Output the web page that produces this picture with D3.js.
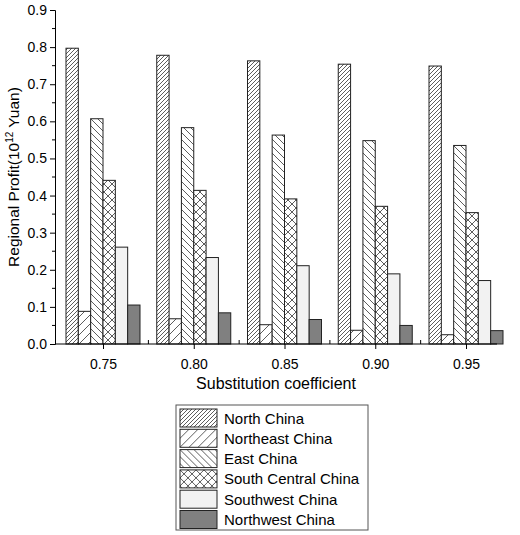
<!DOCTYPE html><html><head><script src="https://d3js.org/d3.v7.min.js"></script>
<style>body{margin:0;background:#fff}text{font-family:Arial,"Liberation Sans",sans-serif}</style></head><body>
<svg id="c" width="520" height="535"></svg>
<script>
const categories=["0.75","0.80","0.85","0.90","0.95"];
const seriesNames=["North China","Northeast China","East China","South Central China","Southwest China","Northwest China"];
const northChina=[0.797,0.778,0.763,0.754,0.749];
const northeastChina=[0.088,0.068,0.052,0.037,0.025];
const eastChina=[0.607,0.583,0.563,0.548,0.535];
const southCentralChina=[0.441,0.414,0.391,0.371,0.354];
const southwestChina=[0.261,0.233,0.211,0.189,0.171];
const northwestChina=[0.105,0.084,0.066,0.050,0.036];
const yTicks=[0,0.1,0.2,0.3,0.4,0.5,0.6,0.7,0.8,0.9];
const series=[northChina,northeastChina,eastChina,southCentralChina,southwestChina,northwestChina];

const svg=d3.select("#c");
const defs=svg.append("defs");
function pat(id,size,draw,bg){const p=defs.append("pattern").attr("id",id).attr("patternUnits","userSpaceOnUse").attr("width",size).attr("height",size);
p.append("rect").attr("width",size).attr("height",size).attr("fill",bg||"#fff");draw(p,size);}
pat("p0",4,(p,s)=>p.append("path").attr("d",`M0,${s}L${s},0M-1,1L1,-1M${s-1},${s+1}L${s+1},${s-1}`).attr("stroke","#333").attr("stroke-width",0.8));
pat("p1",9,(p,s)=>p.append("path").attr("d",`M0,${s}L${s},0M-1,1L1,-1M${s-1},${s+1}L${s+1},${s-1}`).attr("stroke","#333").attr("stroke-width",0.8));
pat("p2",7,(p,s)=>p.append("path").attr("d",`M0,0L${s},${s}M-1,${s-1}L1,${s+1}M${s-1},-1L${s+1},1`).attr("stroke","#333").attr("stroke-width",0.8));
pat("p3",8,(p,s)=>p.append("path").attr("d",`M0,0L${s},${s}M0,${s}L${s},0`).attr("stroke","#333").attr("stroke-width",0.8));
const fills=["url(#p0)","url(#p1)","url(#p2)","url(#p3)","#f2f2f2","#808080"];

const y=d3.scaleLinear().domain([0,0.9]).range([344,10]);
const x=d3.scalePoint().domain(categories).range([103,466]);
const bw=74;
const xi=d3.scaleBand().domain(d3.range(6)).range([-bw/2,bw/2]);

const g=svg.append("g");
series.forEach((s,i)=>{
 g.selectAll(null).data(s).enter().append("rect")
  .attr("x",(d,j)=>x(categories[j])+xi(i)).attr("width",xi.bandwidth())
  .attr("y",d=>y(d)).attr("height",d=>y(0)-y(d))
  .attr("fill",fills[i]).attr("stroke","#222").attr("stroke-width",1);
});
const ya=svg.append("g").attr("transform","translate(55,0)").call(d3.axisLeft(y).tickValues(yTicks).tickFormat(d3.format(".1f")).tickSize(5));
ya.selectAll("text").attr("font-size",14).attr("fill","#000");
ya.selectAll(".mn").data(d3.range(0.05,0.9,0.1)).enter().append("line").attr("x1",-3).attr("x2",0).attr("y1",d=>y(d)).attr("y2",d=>y(d)).attr("stroke","#000");
const xa=svg.append("g").attr("transform","translate(0,344)").call(d3.axisBottom(x).tickSize(5));
xa.select(".domain").attr("d","M55,0H497");
xa.selectAll("text").attr("font-size",14).attr("fill","#000").attr("dy","1.2em");
xa.selectAll(".mn").data(categories.slice(0,4)).enter().append("line").attr("x1",d=>x(d)+45.4).attr("x2",d=>x(d)+45.4).attr("y1",0).attr("y2",-4).attr("stroke","#000");
svg.selectAll(".domain").attr("stroke","#000");

svg.append("text").attr("x",276).attr("y",389).attr("text-anchor","middle").attr("font-size",16).text("Substitution coefficient");
const yl=svg.append("text").attr("transform","translate(19,177) rotate(-90)").attr("text-anchor","middle").attr("font-size",15.5);
yl.append("tspan").text("Regional Profit(10");yl.append("tspan").attr("font-size",10).attr("dy",-6).text("12");yl.append("tspan").attr("dy",6).text(" Yuan)");

const lg=svg.append("g").attr("transform","translate(176,405)");
lg.append("rect").attr("width",192).attr("height",125).attr("fill","#fff").attr("stroke","#555");
seriesNames.forEach((n,i)=>{
 const r=lg.append("g").attr("transform",`translate(4,${4+i*20.3})`);
 r.append("rect").attr("width",37).attr("height",18).attr("fill",fills[i]).attr("stroke","#222");
 r.append("text").attr("x",44).attr("y",14.5).attr("font-size",15).text(n);
});
</script></body></html>
